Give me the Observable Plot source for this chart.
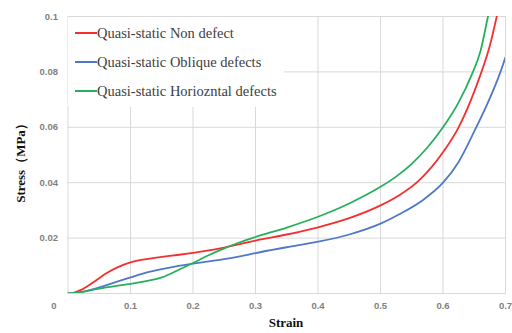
<!DOCTYPE html>
<html><head>
<meta charset="utf-8">
<script src="https://cdn.jsdelivr.net/npm/d3@7"></script>
<script src="https://cdn.jsdelivr.net/npm/@observablehq/plot@0.6"></script>
<style>
body{margin:0;background:#fff}
#wrap{position:relative;width:512px;height:333px;overflow:hidden}
.leg{position:absolute;left:68px;top:17px;width:216px;height:90px;background:#fff}
.item{position:absolute;left:7px;height:16px;font-family:'Liberation Serif','Times New Roman',Tinos,'DejaVu Serif',serif;font-size:14.5px;color:#404040;white-space:nowrap;line-height:16px}
.item .sw{position:absolute;left:0;top:7px;width:22px;height:2px}
.item span.t{position:absolute;left:22px;top:0}
.ylab{position:absolute;left:21px;top:160px;transform:translate(-50%,-50%) rotate(-90deg);font-family:'Liberation Serif','Times New Roman',Tinos,'DejaVu Serif',serif;font-weight:bold;font-size:13px;white-space:nowrap;color:#111;line-height:14px}
.xlab{position:absolute;left:286px;top:316px;transform:translateX(-50%);font-family:'Liberation Serif','Times New Roman',Tinos,'DejaVu Serif',serif;font-weight:bold;font-size:13px;color:#111;line-height:14px}
</style>
</head><body><div id="wrap"></div>
<script>
const seriesNames = ["Quasi-static Non defect", "Quasi-static Oblique defects", "Quasi-static Horiozntal defects"];
const seriesColors = ["#f52f2f", "#4f78cc", "#27b05c"];

const redStrain = [0, 0.01, 0.02, 0.04, 0.06, 0.08, 0.1, 0.125, 0.15, 0.175, 0.2, 0.225, 0.25, 0.275, 0.3, 0.35, 0.4, 0.45, 0.5, 0.53, 0.56, 0.6, 0.625, 0.645, 0.66, 0.675, 0.686, 0.695];
const redStress = [0, 0.0003, 0.0012, 0.0040, 0.0071, 0.0095, 0.0112, 0.0124, 0.0132, 0.0139, 0.0147, 0.0156, 0.0166, 0.0178, 0.0191, 0.0213, 0.0239, 0.0272, 0.0318, 0.0355, 0.0405, 0.0510, 0.0600, 0.0700, 0.0790, 0.0895, 0.1000, 0.109];

const blueStrain = [0, 0.02, 0.05, 0.075, 0.1, 0.125, 0.15, 0.175, 0.2, 0.225, 0.25, 0.275, 0.3, 0.35, 0.4, 0.45, 0.5, 0.53, 0.567, 0.6, 0.625, 0.65, 0.672, 0.692, 0.7];
const blueStress = [0, 0.0005, 0.0022, 0.0040, 0.0058, 0.0075, 0.0088, 0.0099, 0.0108, 0.0116, 0.0124, 0.0134, 0.0146, 0.0167, 0.0187, 0.0213, 0.0252, 0.0286, 0.0336, 0.0400, 0.0475, 0.0585, 0.0690, 0.0800, 0.0853];

const greenStrain = [0, 0.02, 0.05, 0.075, 0.1, 0.125, 0.15, 0.175, 0.2, 0.225, 0.25, 0.275, 0.3, 0.35, 0.4, 0.45, 0.5, 0.525, 0.55, 0.575, 0.6, 0.625, 0.645, 0.66, 0.672, 0.68];
const greenStress = [0, 0.0005, 0.0018, 0.0027, 0.0035, 0.0045, 0.0058, 0.0083, 0.0110, 0.0138, 0.0163, 0.0185, 0.0204, 0.0238, 0.0277, 0.0325, 0.0385, 0.0422, 0.0468, 0.0527, 0.0600, 0.0690, 0.0785, 0.0875, 0.1000, 0.108];

const xTicks = [0.1, 0.2, 0.3, 0.4, 0.5, 0.6, 0.7];
const yTicks = [0.02, 0.04, 0.06, 0.08, 0.1];
const xTickLabels = ["0.1", "0.2", "0.3", "0.4", "0.5", "0.6", "0.7"];
const yTickLabels = ["0.02", "0.04", "0.06", "0.08", "0.1"];

const strains = [redStrain, blueStrain, greenStrain];
const stresses = [redStress, blueStress, greenStress];
const rows = [];
seriesNames.forEach((name, i) => {
  strains[i].forEach((s, j) => rows.push({series: name, strain: s, stress: stresses[i][j]}));
});

const grid = "#d9d9d9";
const chart = Plot.plot({
  width: 512,
  height: 333,
  marginLeft: 67.5,
  marginRight: 7,
  marginTop: 16,
  marginBottom: 40,
  style: {fontFamily: "Liberation Sans, Arial, sans-serif", fontSize: "9.5px", fontWeight: "bold", color: "#7f7f7f", background: "#fff"},
  x: {domain: [0, 0.7]},
  y: {domain: [0, 0.1]},
  color: {domain: seriesNames, range: seriesColors},
  marks: [
    Plot.gridX(xTicks, {stroke: grid, strokeOpacity: 1, strokeWidth: 1}),
    Plot.gridY(yTicks, {stroke: grid, strokeOpacity: 1, strokeWidth: 1}),
    Plot.frame({stroke: grid, strokeWidth: 1}),
    Plot.line(rows, {x: "strain", y: "stress", z: "series", stroke: "series", strokeWidth: 1.8, curve: "monotone-x", clip: true}),
    Plot.axisX(xTicks, {tickSize: 0, tickPadding: 9, tickFormat: (d, i) => xTickLabels[i], label: null}),
    Plot.axisX([0], {tickSize: 0, tickPadding: 9, dx: -14, tickFormat: () => "0", label: null}),
    Plot.axisY(yTicks, {tickSize: 0, tickPadding: 10, tickFormat: (d, i) => yTickLabels[i], label: null})
  ]
});
const wrap = document.getElementById("wrap");
wrap.appendChild(chart);

const leg = document.createElement("div");
leg.className = "leg";
const rowTops = [8, 37, 66];
seriesNames.forEach((name, i) => {
  const it = document.createElement("div");
  it.className = "item";
  it.style.top = rowTops[i] + "px";
  it.innerHTML = `<div class="sw" style="background:${seriesColors[i]}"></div><span class="t">${name}</span>`;
  leg.appendChild(it);
});
wrap.appendChild(leg);

const yl = document.createElement("div");
yl.className = "ylab";
yl.textContent = "Stress（MPa）";
wrap.appendChild(yl);
const xl = document.createElement("div");
xl.className = "xlab";
xl.textContent = "Strain";
wrap.appendChild(xl);
</script>
</body></html>
